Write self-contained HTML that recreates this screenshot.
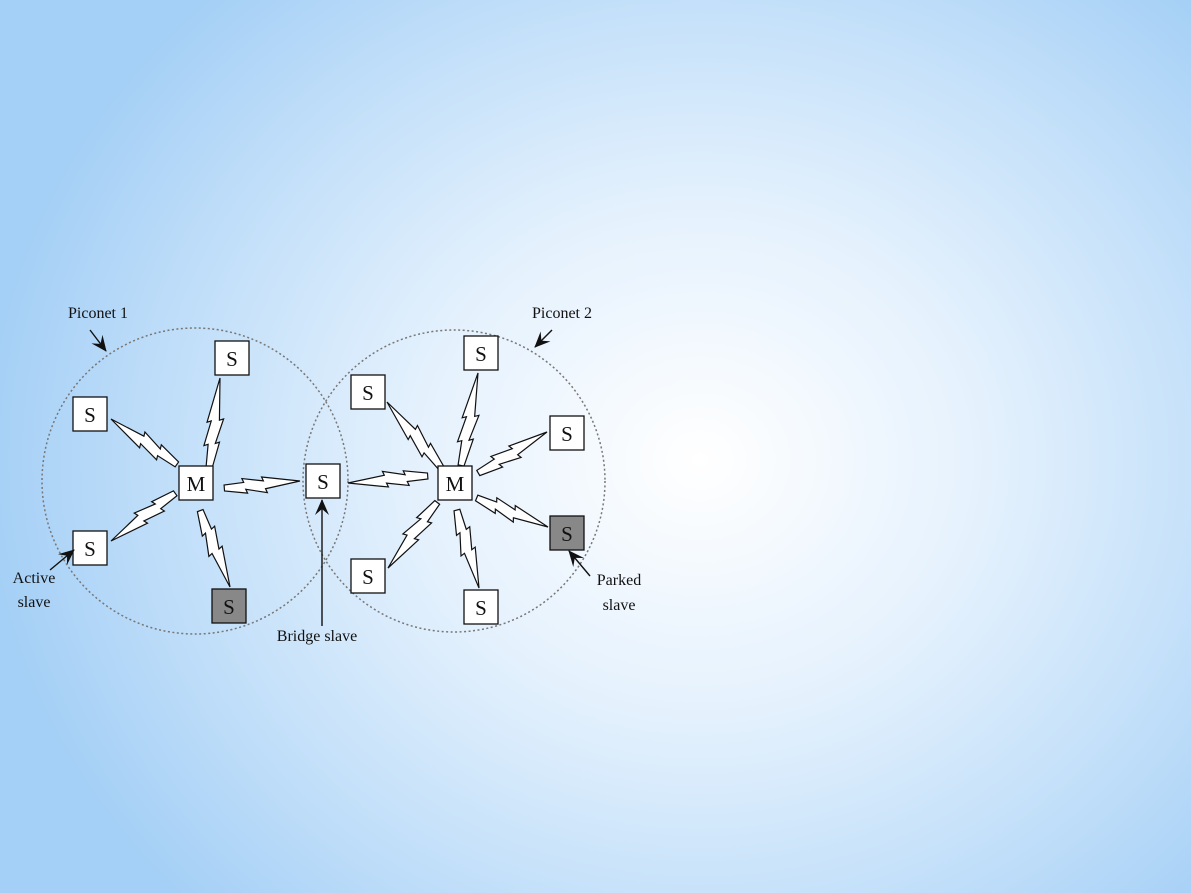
<!DOCTYPE html>
<html><head><style>
html,body{margin:0;padding:0}
body{width:1191px;height:893px;overflow:hidden;background:radial-gradient(ellipse 720px 640px at 700px 460px,#ffffff 0%,#e4f1fd 40%,#c0def9 75%,#a4cff6 100%);}
svg{position:absolute;left:0;top:0}
text{font-family:"Liberation Serif",serif;fill:#111}
</style></head><body>
<svg width="1191" height="893" viewBox="0 0 1191 893">
<defs>
<polygon id="b" points="0,0 46,-5 44,-9 72,-4 70,-8 100,-4 100,2 74,3 76,7 48,3 50,7" fill="#fff" stroke="#111" stroke-width="1.2" vector-effect="non-scaling-stroke"/>
<marker id="ah" markerWidth="16" markerHeight="14" refX="15" refY="7" orient="auto" markerUnits="userSpaceOnUse"><path d="M0,0 L16,7 L0,14 L6,7 Z" fill="#111"/></marker>
</defs>
<circle cx="195" cy="481" r="153" fill="none" stroke="#777" stroke-width="1.5" stroke-dasharray="2,2.5"/>
<circle cx="454" cy="481" r="151" fill="none" stroke="#777" stroke-width="1.5" stroke-dasharray="2,2.5"/>
<g>
<use href="#b" transform="translate(220,378) rotate(97.6) scale(0.91,1)"/>
<use href="#b" transform="translate(111,419) rotate(35.3) scale(0.80,1)"/>
<use href="#b" transform="translate(300,481) rotate(175.5) scale(0.76,1)"/>
<use href="#b" transform="translate(111,541) rotate(-35.9) scale(0.80,1)"/>
<use href="#b" transform="translate(230,587) rotate(249.4) scale(0.82,1)"/>
<use href="#b" transform="translate(478,373) rotate(101) scale(0.94,1)"/>
<use href="#b" transform="translate(387,402) rotate(51.2) scale(0.85,1)"/>
<use href="#b" transform="translate(547,432) rotate(149.9) scale(0.80,1)"/>
<use href="#b" transform="translate(348,483) rotate(-4.3) scale(0.80,1)"/>
<use href="#b" transform="translate(548,527) rotate(202.9) scale(0.77,1)"/>
<use href="#b" transform="translate(388,568) rotate(-52.4) scale(0.82,1)"/>
<use href="#b" transform="translate(479,588) rotate(254.9) scale(0.81,1)"/>
</g>
<g stroke="#111" stroke-width="1.3">
<rect x="215" y="341" width="34" height="34" fill="#fff"/>
<rect x="73" y="397" width="34" height="34" fill="#fff"/>
<rect x="179" y="466" width="34" height="34" fill="#fff"/>
<rect x="306" y="464" width="34" height="34" fill="#fff"/>
<rect x="73" y="531" width="34" height="34" fill="#fff"/>
<rect x="212" y="589" width="34" height="34" fill="#888"/>
<rect x="464" y="336" width="34" height="34" fill="#fff"/>
<rect x="351" y="375" width="34" height="34" fill="#fff"/>
<rect x="550" y="416" width="34" height="34" fill="#fff"/>
<rect x="438" y="466" width="34" height="34" fill="#fff"/>
<rect x="550" y="516" width="34" height="34" fill="#888"/>
<rect x="351" y="559" width="34" height="34" fill="#fff"/>
<rect x="464" y="590" width="34" height="34" fill="#fff"/>
</g>
<g font-size="21" text-anchor="middle">
<text x="232" y="366">S</text><text x="90" y="422">S</text><text x="196" y="491">M</text>
<text x="323" y="489">S</text><text x="90" y="556">S</text><text x="229" y="614">S</text>
<text x="481" y="361">S</text><text x="368" y="400">S</text><text x="567" y="441">S</text>
<text x="455" y="491">M</text><text x="567" y="541">S</text><text x="368" y="584">S</text><text x="481" y="615">S</text>
</g>
<g font-size="16" text-anchor="middle">
<text x="98" y="318">Piconet 1</text>
<text x="562" y="318">Piconet 2</text>
<text x="34" y="583">Active</text><text x="34" y="607">slave</text>
<text x="317" y="641">Bridge slave</text>
<text x="619" y="585">Parked</text><text x="619" y="610">slave</text>
</g>
<g stroke="#111" stroke-width="1.4" fill="none" marker-end="url(#ah)">
<line x1="90" y1="330" x2="106" y2="351"/>
<line x1="552" y1="330" x2="535" y2="347"/>
<line x1="50" y1="570" x2="74" y2="550"/>
<line x1="322" y1="626" x2="322" y2="500"/>
<line x1="590" y1="576" x2="569" y2="551"/>
</g>
</svg>
</body></html>
